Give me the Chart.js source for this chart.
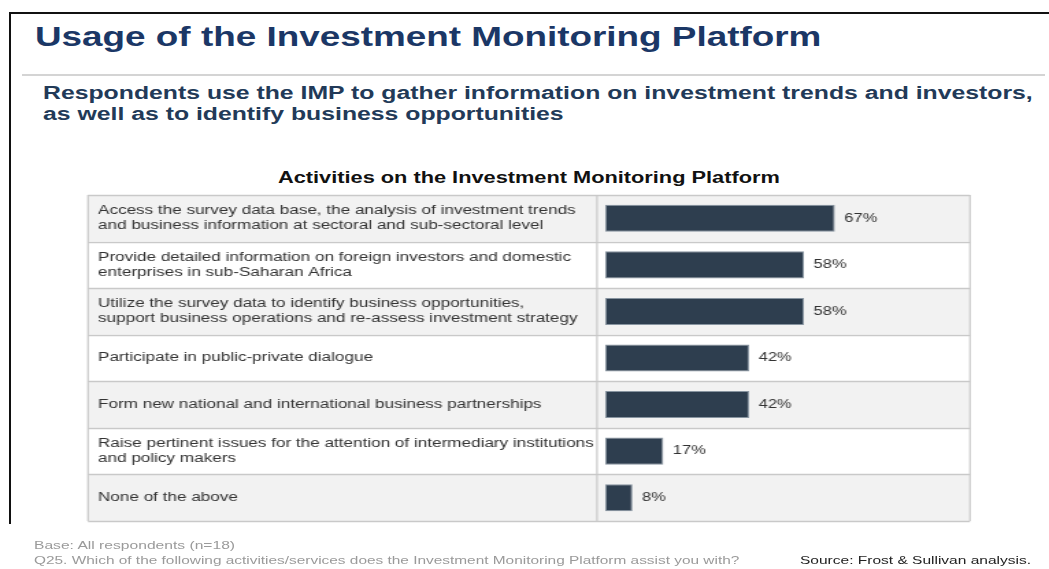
<!DOCTYPE html>
<html>
<head>
<meta charset="utf-8">
<script src="https://cdn.jsdelivr.net/npm/chart.js@4.4.1/dist/chart.umd.min.js"></script>
<style>
  html, body { margin: 0; padding: 0; background: #fff; }
  body { width: 1049px; height: 569px; position: relative; overflow: hidden; font-family: "Liberation Sans", Arial, sans-serif; }
  .abs { position: absolute; white-space: nowrap; line-height: 1; transform-origin: 0 0; }
  #frameTop { position: absolute; left: 9px; top: 12px; width: 1040px; height: 2px; background: #111; }
  #frameLeft { position: absolute; left: 9px; top: 12px; width: 2px; height: 512px; background: #111; }
  #sep { position: absolute; left: 22px; top: 74px; width: 1023px; height: 2px; background: #d4d4d4; }
  #title { left: 35px; top: 24px; font-size: 27px; font-weight: bold; color: #1b3766; transform: scaleX(1.365); }
  #sub1 { left: 43px; top: 84px; font-size: 18px; font-weight: bold; color: #223a58; transform: scaleX(1.377); }
  #sub2 { left: 43px; top: 105px; font-size: 18px; font-weight: bold; color: #223a58; transform: scaleX(1.377); }
  #ctitle { left: 278px; top: 170px; font-size: 16px; font-weight: bold; color: #111; transform: scaleX(1.36); }
  #base { left: 34px; top: 540px; font-size: 11px; color: #9a9a9a; transform: scaleX(1.42); }
  #q25 { left: 34px; top: 555px; font-size: 11px; color: #9a9a9a; transform: scaleX(1.40); }
  #src { left: 800px; top: 555px; font-size: 11px; color: #222; transform: scaleX(1.41); }
  #cvwrap { position: absolute; left: 0; top: 0; width: 766px; height: 569px; transform-origin: 0 0; transform: scaleX(1.3695); }
</style>
</head>
<body>
<div id="frameTop"></div>
<div id="frameLeft"></div>
<div id="sep"></div>
<div class="abs" id="title">Usage of the Investment Monitoring Platform</div>
<div class="abs" id="sub1">Respondents use the IMP to gather information on investment trends and investors,</div>
<div class="abs" id="sub2">as well as to identify business opportunities</div>
<div class="abs" id="ctitle">Activities on the Investment Monitoring Platform</div>
<div id="cvwrap"><canvas id="cv" width="766" height="569"></canvas></div>
<div class="abs" id="base">Base: All respondents (n=18)</div>
<div class="abs" id="q25">Q25. Which of the following activities/services does the Investment Monitoring Platform assist you with?</div>
<div class="abs" id="src">Source: Frost &amp; Sullivan analysis.</div>
<script>
const categories = [
  ["Access the survey data base, the analysis of investment trends", "and business information at sectoral and sub-sectoral level"],
  ["Provide detailed information on foreign investors and domestic", "enterprises in sub-Saharan Africa"],
  ["Utilize the survey data to identify business opportunities,", "support business operations and re-assess investment strategy"],
  ["Participate in public-private dialogue"],
  ["Form new national and international business partnerships"],
  ["Raise pertinent issues for the attention of intermediary institutions", "and policy makers"],
  ["None of the above"]
];
const values = [67, 58, 58, 42, 42, 17, 8];
const valueLabels = ["67%", "58%", "58%", "42%", "42%", "17%", "8%"];

const K = 1.3695;

const tablePlugin = {
  id: 'tablePlugin',
  beforeDraw(chart) {
    const ctx = chart.ctx;
    const y = chart.scales.y;
    const n = categories.length;
    const step = (y.bottom - y.top) / n;
    const left = 88 / K, mid = 597 / K, right = 970 / K;
    ctx.save();
    for (let i = 0; i < n; i++) {
      const c = y.getPixelForValue(i);
      ctx.fillStyle = (i % 2 === 0) ? '#f2f2f2' : '#ffffff';
      ctx.fillRect(left, c - step / 2, right - left, step);
    }
    ctx.strokeStyle = '#c9c9c9';
    ctx.lineWidth = 1.5;
    for (let i = 0; i <= n; i++) {
      const yy = Math.round(y.top + i * step) + 0.5;
      ctx.beginPath(); ctx.moveTo(left, yy); ctx.lineTo(right, yy); ctx.stroke();
    }
    ctx.lineWidth = 1.2;
    [left, mid, right].forEach(x => {
      ctx.beginPath(); ctx.moveTo(x, y.top); ctx.lineTo(x, y.bottom); ctx.stroke();
    });
    ctx.restore();
  },
  afterDatasetsDraw(chart) {
    const ctx = chart.ctx;
    const meta = chart.getDatasetMeta(0);
    ctx.save();
    ctx.font = '12px "Liberation Sans", Arial, sans-serif';
    ctx.fillStyle = '#333';
    ctx.textAlign = 'left';
    ctx.textBaseline = 'middle';
    meta.data.forEach((bar, i) => {
      ctx.fillText(valueLabels[i], bar.x + 7, bar.y);
    });
    ctx.restore();
  }
};

new Chart(document.getElementById('cv'), {
  type: 'bar',
  data: {
    labels: categories,
    datasets: [{
      data: values,
      backgroundColor: '#2e3e4f',
      borderColor: '#8794a0',
      borderWidth: 1,
      borderSkipped: false,
      categoryPercentage: 0.6,
      barPercentage: 0.97
    }]
  },
  options: {
    indexAxis: 'y',
    responsive: false,
    animation: false,
    devicePixelRatio: 1,
    layout: { padding: { left: 98 / K, right: (1049 - 948) / K, top: 195, bottom: 48 } },
    plugins: { legend: { display: false }, tooltip: { enabled: false }, title: { display: false } },
    scales: {
      x: { display: false, min: 0, max: 100 },
      y: {
        position: 'left',
        grid: { display: false },
        border: { display: false },
        afterFit(scale) { scale.width = (605 - 98) / K; },
        ticks: {
          autoSkip: false,
          crossAlign: 'far',
          color: '#333',
          font: { family: '"Liberation Sans", Arial, sans-serif', size: 12.5, lineHeight: 1.2 }
        }
      }
    }
  },
  plugins: [tablePlugin]
});
</script>
</body>
</html>
